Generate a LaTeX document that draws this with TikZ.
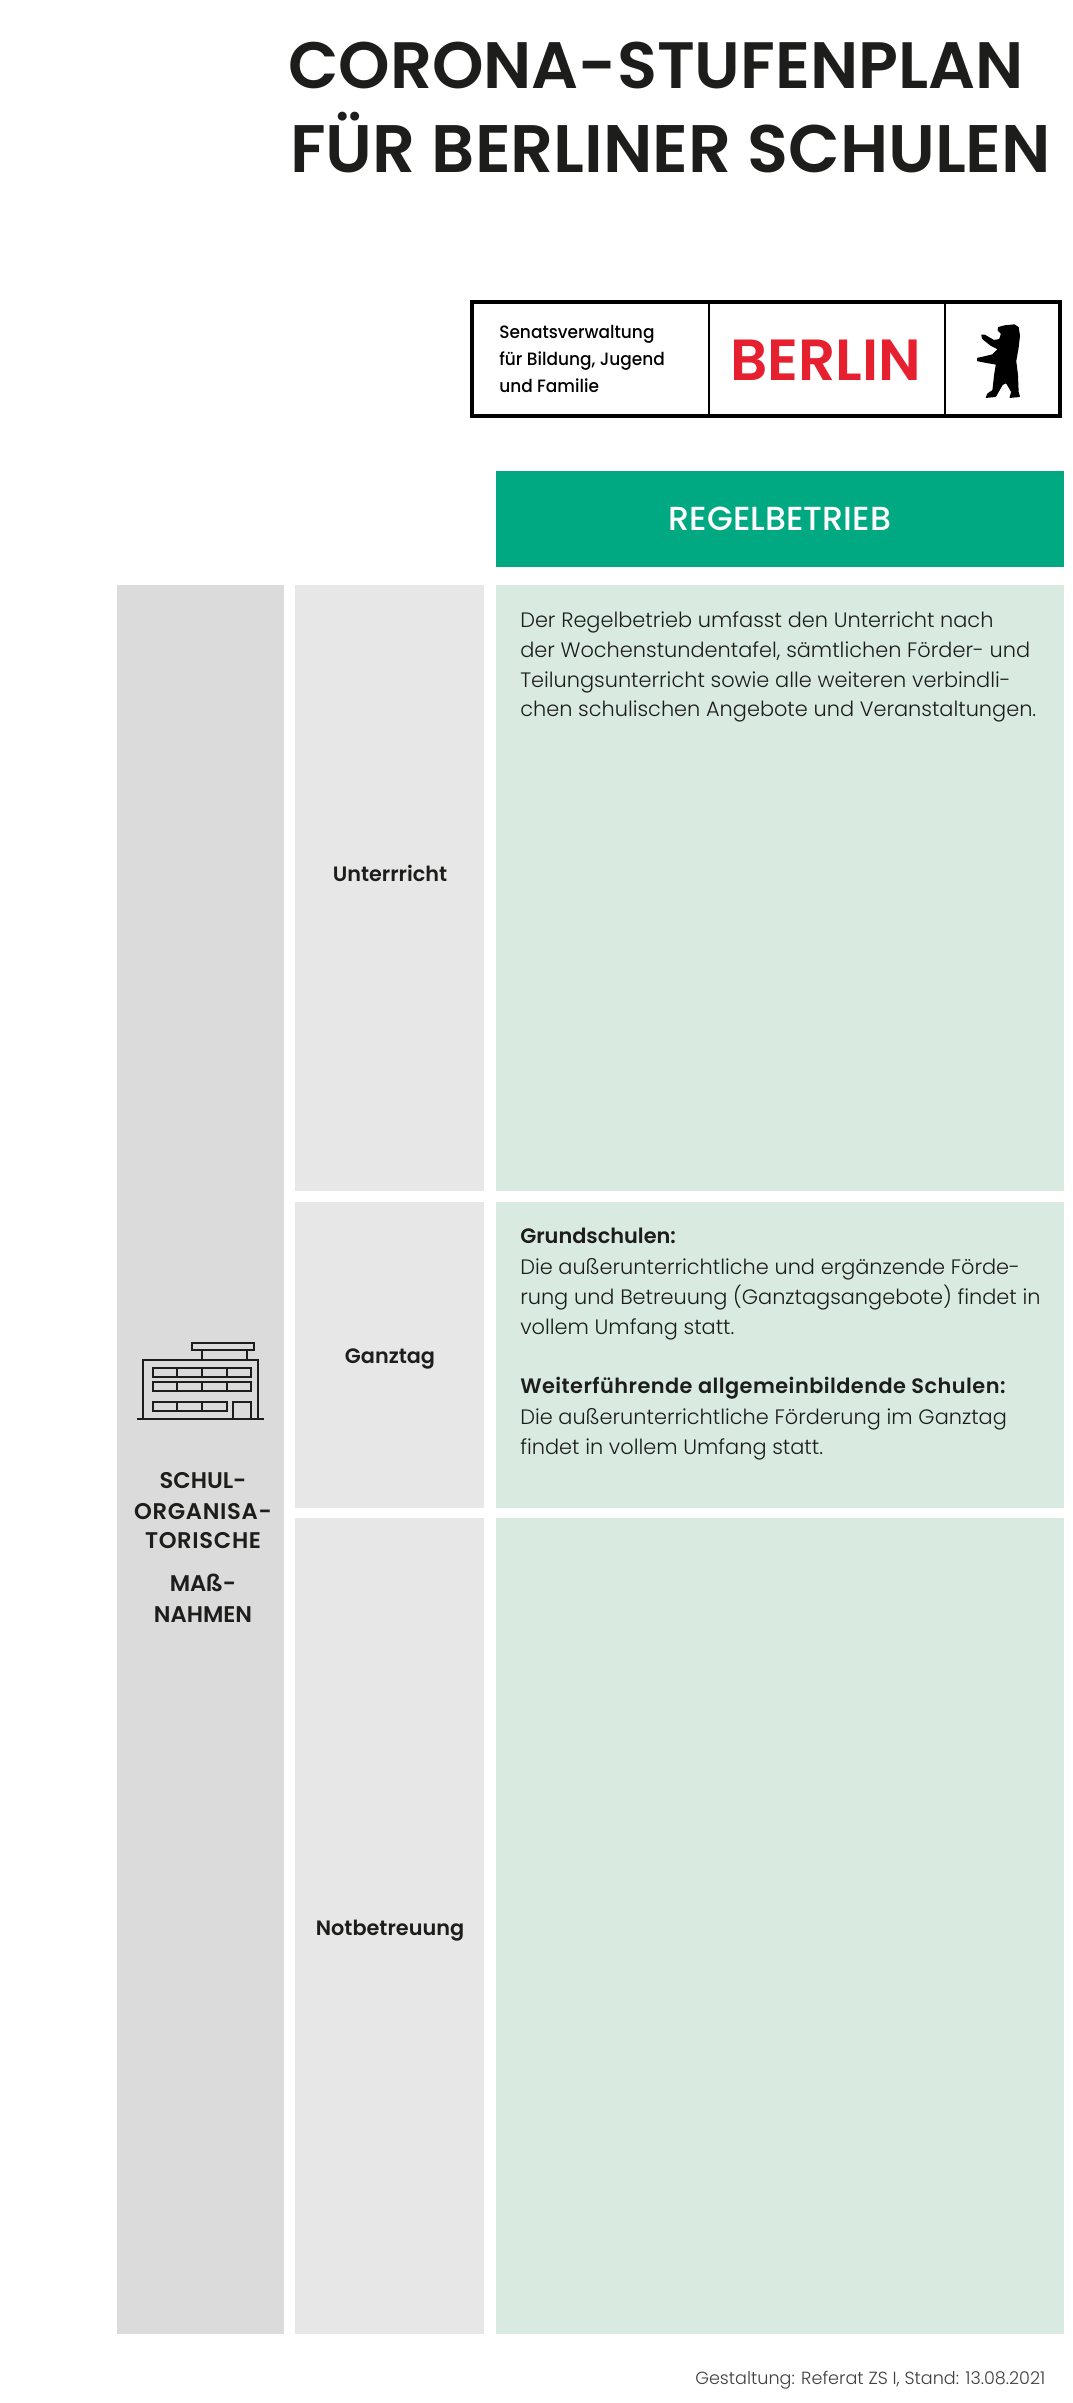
\documentclass[tikz,border=0pt]{standalone}
\usepackage{fontspec}
\setmainfont{Poppins}
\newfontfamily\med{Poppins Medium}
\newfontfamily\sem{Poppins SemiBold}
\newfontfamily\lgt{Poppins Light}
\definecolor{hdr}{HTML}{00A982}
\definecolor{pale}{HTML}{D9EAE0}
\definecolor{gA}{HTML}{DBDBDB}
\definecolor{gB}{HTML}{E7E7E7}
\definecolor{ink}{HTML}{1D1D1B}
\definecolor{red}{HTML}{E6202F}
\tikzset{
 title/.style={anchor=base west,inner sep=0,text=ink},
 body/.style={anchor=base west,inner sep=0,text=ink,font=\lgt\fontsize{15.65}{15.65}\selectfont},
 bodyb/.style={anchor=base west,inner sep=0,text=ink,font=\sem\fontsize{15.65}{15.65}\selectfont},
 rowl/.style={anchor=base,inner sep=0,text=ink,font=\sem\fontsize{15.6}{15.6}\selectfont},
 side/.style={anchor=base,inner sep=0,text=ink,font=\sem\fontsize{17}{17}\selectfont},
 logo/.style={anchor=base west,inner sep=0,text=black,font=\med\fontsize{13.4}{13.4}\selectfont\addfontfeature{FakeStretch=0.95}},
 icon/.style={draw=ink,line width=1pt},
}
\begin{document}
\begin{tikzpicture}[x=0.75pt,y=-0.75pt]
\useasboundingbox[fill=white] (0,0) rectangle (1072,2403);
\fill[gA] (117,585) rectangle (284,2334);
\fill[gB] (295,585) rectangle (484,1191);
\fill[gB] (295,1202) rectangle (484,1508);
\fill[gB] (295,1518) rectangle (484,2334);
\fill[hdr] (496,471) rectangle (1064,567);
\fill[pale] (496,585) rectangle (1064,1191);
\fill[pale] (496,1202) rectangle (1064,1508);
\fill[pale] (496,1518) rectangle (1064,2334);
\node[title,font=\sem\fontsize{49.2}{49.2}\selectfont] (t1) at (288,88) {CORONA-STUFENPLAN};
\node[title,font=\sem\fontsize{50.4}{50.4}\selectfont] (t2) at (290,172) {FÜR BERLINER SCHULEN};
\draw[line width=2.5pt] (472,302) rectangle (1060,416);
\draw[line width=2pt] (709,302) -- (709,416) (945,302) -- (945,416);
\node[logo] (l1) at (499,338) {Senatsverwaltung};
\node[logo] (l2) at (499,365) {für Bildung, Jugend};
\node[logo] (l3) at (499,392) {und Familie};
\node[anchor=base,inner sep=0,text=red,font=\sem\fontsize{43.5}{43.5}\selectfont] (berlin) at (826,380) {BERLIN};
\fill[black,shift={(960,310)},scale=0.341,rounded corners=0.4pt] (112,50) -- (130,45) -- (160,42) -- (172,50) -- (176,75) -- (172,110) -- (165,150) -- (170,190) -- (172,240) -- (176,255) -- (145,258) -- (150,240) -- (135,215) -- (125,220) -- (105,255) -- (75,258) -- (80,245) -- (95,235) -- (100,190) -- (105,160) -- (75,155) -- (50,150) -- (50,140) -- (62,138) -- (95,130) -- (110,115) -- (90,105) -- (65,85) -- (62,72) -- (72,72) -- (100,88) -- (115,85) -- (120,70) -- (110,60) -- cycle;
\node[anchor=center,inner sep=0,text=white,font=\med\fontsize{25}{25}\selectfont] (hd) at (780,519) {REGELBETRIEB};
\node[body] (a1) at (520,627) {Der Regelbetrieb umfasst den Unterricht nach};
\node[body] (a2) at (520,657) {der Wochenstundentafel, sämtlichen Förder- und};
\node[body] (a3) at (520,687) {Teilungsunterricht sowie alle weiteren verbindli-};
\node[body] (a4) at (520,716) {chen schulischen Angebote und Veranstaltungen.};
\node[bodyb] (b1) at (520,1243) {Grundschulen:};
\node[body] (b2) at (520,1274) {Die außerunterrichtliche und ergänzende Förde-};
\node[body] (b3) at (520,1304) {rung und Betreuung (Ganztagsangebote) findet in};
\node[body] (b4) at (520,1334) {vollem Umfang statt.};
\node[bodyb,font=\sem\fontsize{15.65}{15.65}\selectfont\addfontfeature{LetterSpace=2.2}] (b5) at (520,1393) {Weiterführende allgemeinbildende Schulen:};
\node[body] (b6) at (520,1424) {Die außerunterrichtliche Förderung im Ganztag};
\node[body] (b7) at (520,1454) {findet in vollem Umfang statt.};
\node[rowl] (u) at (390,881) {Unterrricht};
\node[rowl] (g) at (390,1363) {Ganztag};
\node[rowl] (n) at (390,1935) {Notbetreuung};
\node[side] (s1) at (203,1488) {SCHUL-};
\node[side,font=\sem\fontsize{17}{17}\selectfont\addfontfeature{LetterSpace=3}] (s2) at (203,1519) {ORGANISA-};
\node[side,font=\sem\fontsize{17}{17}\selectfont\addfontfeature{LetterSpace=3}] (s3) at (203,1548) {TORISCHE};
\node[side] (s4) at (203,1591) {MAß-};
\node[side] (s5) at (203,1622) {NAHMEN};
\draw[icon] (137,1419) -- (264,1419);
\draw[icon] (143,1419) -- (143,1360) -- (258,1360) -- (258,1419);
\draw[icon] (202,1360) -- (202,1350) (247,1360) -- (247,1350);
\draw[icon] (192,1343) rectangle (254,1350);
\draw[icon] (153,1368) rectangle (251,1377);
\draw[icon] (153,1382) rectangle (251,1391);
\draw[icon] (153,1402) rectangle (227,1411);
\draw[icon] (177,1368) -- (177,1377) (202,1368) -- (202,1377) (227,1368) -- (227,1377);
\draw[icon] (177,1382) -- (177,1391) (202,1382) -- (202,1391) (227,1382) -- (227,1391);
\draw[icon] (177,1402) -- (177,1411) (202,1402) -- (202,1411);
\draw[icon] (233,1419) -- (233,1402) -- (251,1402) -- (251,1419);
\node[anchor=base west,inner sep=0,text=ink!85,font=\lgt\fontsize{13.2}{13.2}\selectfont] (f) at (695,2384) {Gestaltung: Referat ZS I, Stand: 13.08.2021};
\end{tikzpicture}
\end{document}
